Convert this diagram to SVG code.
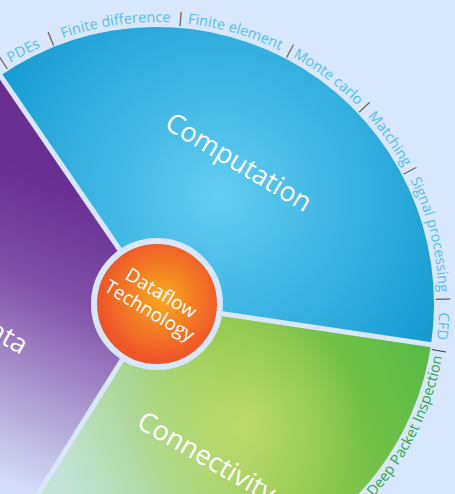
<svg xmlns="http://www.w3.org/2000/svg" xmlns:xlink="http://www.w3.org/1999/xlink" width="455" height="494" viewBox="0 0 455 494">
<style>
.big{font-family:"Open Sans","Noto Sans",sans-serif;fill:#ffffff;font-size:27px;text-anchor:middle}
.mid{font-family:"Open Sans","Noto Sans",sans-serif;fill:#ffffff;font-size:19px;text-anchor:middle}
.lbl{font-family:"Open Sans","Noto Sans",sans-serif;font-size:14.5px;text-anchor:middle}
.blue{fill:#52c0ee}
.green{fill:#2fa64a}
.sep{fill:#4a4a4a}
.gap{stroke:#d8e7fc;stroke-width:5;fill:none}
</style>
<defs>
<radialGradient id="gBlue" gradientUnits="userSpaceOnUse" cx="218" cy="195" r="250">
<stop offset="0" stop-color="#62cdf2"/>
<stop offset="1" stop-color="#169bd1"/>
</radialGradient>
<linearGradient id="gGreen" gradientUnits="userSpaceOnUse" x1="430" y1="340" x2="70" y2="494">
<stop offset="0" stop-color="#55b946"/>
<stop offset="0.5" stop-color="#93c94c"/>
<stop offset="1" stop-color="#c3e3d8"/>
</linearGradient>
<radialGradient id="gGreenHi" gradientUnits="userSpaceOnUse" cx="242" cy="425" r="120">
<stop offset="0" stop-color="#c4dc70" stop-opacity="0.85"/>
<stop offset="1" stop-color="#c4dc70" stop-opacity="0"/>
</radialGradient>
<linearGradient id="gPurple" gradientUnits="userSpaceOnUse" x1="110" y1="200" x2="0" y2="480">
<stop offset="0" stop-color="#6a2d92"/>
<stop offset="0.35" stop-color="#7f50a8"/>
<stop offset="1" stop-color="#d4ddf8"/>
</linearGradient>
<radialGradient id="gOrange" gradientUnits="userSpaceOnUse" cx="162" cy="298" r="62">
<stop offset="0" stop-color="#f9a91f"/>
<stop offset="1" stop-color="#ee5628"/>
</radialGradient>
<path id="ringCW" d="M -42.40 104.60 A 282 282 0 0 1 429.39 376.99"/>
<path id="ringCCW" d="M 302 555.15 A 290 290 0 0 0 442.59 253.64"/>
</defs>
<rect width="455" height="494" fill="#d8e7fc"/>
<g id="node-computation">
<path d="M 157 304 L 0.10 75.72 A 277 277 0 0 1 430.96 344.94 Z" fill="url(#gBlue)"/>
<text class="big" transform="translate(234,170) rotate(31)">Computation</text>
</g>
<g id="node-connectivity">
<path d="M 157 304 L 430.96 344.94 A 277 277 0 0 1 10.21 538.91 Z" fill="url(#gGreen)"/>
<path d="M 157 304 L 430.96 344.94 A 277 277 0 0 1 10.21 538.91 Z" fill="url(#gGreenHi)"/>
<text class="big" transform="translate(202,465) rotate(30)">Connectivity</text>
</g>
<g id="node-data">
<path d="M 157 304 L 10.21 538.91 A 277 277 0 0 1 0.10 75.72 Z" fill="url(#gPurple)"/>
<text class="big" style="text-anchor:end" transform="translate(21,355) rotate(30)">Data</text>
</g>
<g id="separators">
<line class="gap" x1="157" y1="304" x2="-5" y2="68"/>
<line class="gap" x1="157" y1="304" x2="440" y2="346"/>
<line class="gap" x1="157" y1="304" x2="5" y2="547"/>
</g>
<g id="node-center">
<circle cx="157" cy="304" r="63" fill="url(#gOrange)" stroke="#d8e7fc" stroke-width="6"/>
<g transform="translate(157,304) rotate(31)">
<text class="mid" x="-2" y="-5">Dataflow</text>
<text class="mid" x="-3" y="16">Technology</text>
</g>
</g>
<g id="ring-labels">
<text class="lbl"><textPath href="#ringCW" xlink:href="#ringCW" startOffset="61.5" class="sep">|</textPath></text>
<text class="lbl"><textPath href="#ringCW" xlink:href="#ringCW" startOffset="84.7" class="blue">PDEs</textPath></text>
<text class="lbl"><textPath href="#ringCW" xlink:href="#ringCW" startOffset="114.2" class="sep">|</textPath></text>
<text class="lbl"><textPath href="#ringCW" xlink:href="#ringCW" startOffset="180.1" class="blue">Finite difference</textPath></text>
<text class="lbl"><textPath href="#ringCW" xlink:href="#ringCW" startOffset="244.6" class="sep">|</textPath></text>
<text class="lbl"><textPath href="#ringCW" xlink:href="#ringCW" startOffset="300.2" class="blue">Finite element</textPath></text>
<text class="lbl"><textPath href="#ringCW" xlink:href="#ringCW" startOffset="357.8" class="sep">|</textPath></text>
<text class="lbl"><textPath href="#ringCW" xlink:href="#ringCW" startOffset="403.6" class="blue">Monte carlo</textPath></text>
<text class="lbl"><textPath href="#ringCW" xlink:href="#ringCW" startOffset="450.3" class="sep">|</textPath></text>
<text class="lbl"><textPath href="#ringCW" xlink:href="#ringCW" startOffset="490.2" class="blue">Matching</textPath></text>
<text class="lbl"><textPath href="#ringCW" xlink:href="#ringCW" startOffset="527.6" class="sep">|</textPath></text>
<text class="lbl"><textPath href="#ringCW" xlink:href="#ringCW" startOffset="594.1" class="blue">Signal processing</textPath></text>
<text class="lbl"><textPath href="#ringCW" xlink:href="#ringCW" startOffset="659.5" class="sep">|</textPath></text>
<text class="lbl"><textPath href="#ringCW" xlink:href="#ringCW" startOffset="686.1" class="blue">CFD</textPath></text>
<text class="lbl"><textPath href="#ringCW" xlink:href="#ringCW" startOffset="710.7" class="sep">|</textPath></text>
<text class="lbl"><textPath href="#ringCCW" xlink:href="#ringCCW" startOffset="171.6" class="green">Deep Packet Inspection</textPath></text>
</g>
</svg>
